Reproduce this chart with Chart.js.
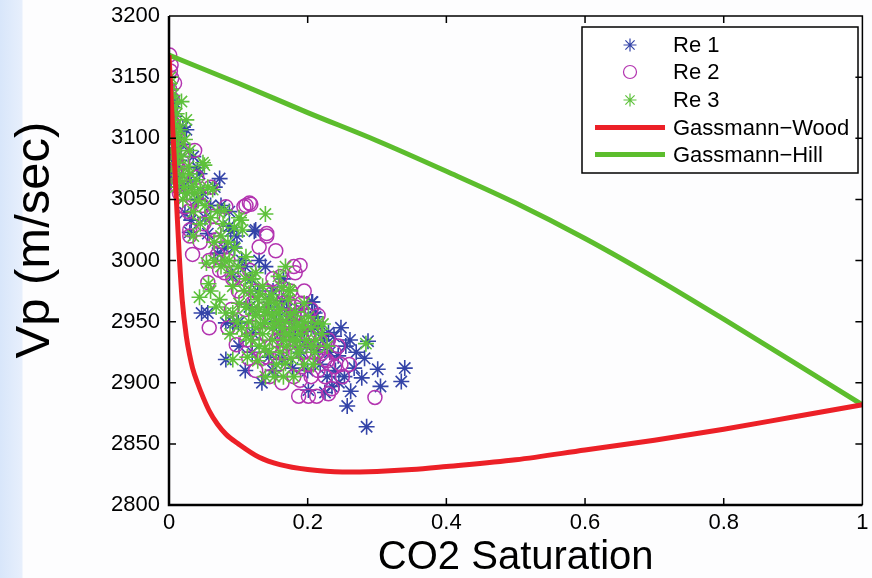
<!DOCTYPE html>
<html>
<head>
<meta charset="utf-8">
<script src="https://cdn.jsdelivr.net/npm/chart.js@4"></script>
<style>
html,body{margin:0;padding:0}
body{width:872px;height:578px;background:linear-gradient(to right,#d8e6fa 0,#e7effc 22px,#fdfdfe 23px)}
#wrap{position:relative;width:872px;height:578px}
</style>
</head>
<body>
<div id="wrap"><canvas id="chart" width="872" height="578"></canvas></div>
<script>
// tick values
const satTicks=[0,0.2,0.4,0.6,0.8,1];
const vpTicks=[2800,2850,2900,2950,3000,3050,3100,3150,3200];

// model curves
const woodSat=[0,0.005,0.01,0.015,0.019,0.025,0.03,0.034,0.041,0.05,0.058,0.07,0.082,0.1,0.13,0.16,0.2,0.25,0.3,0.35,0.4,0.5,0.6,0.7,0.8,0.9,1];
const woodVp=[3168,3112,3057,3002,2968,2938,2922,2912,2900,2887,2877,2866,2858,2850,2839,2833,2829,2827,2827.5,2829,2831.5,2837,2845,2853,2862,2872,2882];
const hillSat=[0,0.1,0.2,0.3,0.4,0.5,0.6,0.7,0.8,0.9,1];
const hillVp=[3168,3145,3121,3098,3073,3047,3018,2986,2952,2917,2882];

// measured points [saturation, vp]
const re1=[[0.002,3140],[0.005,3128],[0.003,3112],[0.008,3118],[0.006,3098],[0.004,3086],[0.010,3092],[0.004,3077],[0.012,3068],[0.015,3082],
[0.020,3109],[0.025,3107],[0.041,3076],[0.044,3071],[0.073,3067],[0.066,3060],[0.049,3055],[0.023,3039],[0.032,3033],[0.030,3023],
[0.087,3040],[0.089,3024],[0.123,3024],[0.056,3022],[0.087,3028],[0.125,3025],[0.070,3006],[0.094,3011],[0.130,3000],[0.139,2995],
[0.092,2987],[0.047,2957],[0.056,2957],[0.082,2949],[0.100,2949],[0.116,2962],[0.144,2962],[0.163,2967],[0.206,2966],[0.210,2957],
[0.215,2946],[0.082,2919],[0.110,2910],[0.134,2900],[0.207,2966],[0.211,2954],[0.195,2942],[0.230,2941],[0.248,2945],[0.261,2935],
[0.287,2934],[0.282,2920],[0.267,2912],[0.278,2904],[0.262,2893],[0.257,2881],[0.285,2864],[0.301,2911],[0.305,2897],[0.335,2901],
[0.340,2912],[0.253,2905],[0.235,2897],[0.244,2922],[0.232,2925],[0.215,2927],[0.201,2894],[0.225,2892],[0.092,2949],[0.144,2921],
[0.163,2919],[0.120,2941],[0.101,2930],[0.182,2938],[0.208,2946],[0.173,2951],[0.150,2975],[0.170,2960],[0.110,2995],[0.160,2940],
[0.190,2925],[0.060,3045],[0.040,3050],[0.015,3060],[0.190,2960],[0.178,2912],[0.240,2910],[0.222,2935],
[0.001,3105],[0.007,3130],[0.003,3065],[0.018,3095],[0.028,3065],[0.035,3085],[0.052,3035],[0.075,3045],[0.080,3010],[0.098,3020],
[0.105,3000],[0.118,2985],[0.128,2975],[0.155,2950],[0.165,2985],[0.185,2950],[0.198,2930],[0.218,2915],[0.228,2905],[0.245,2900],
[0.270,2925],[0.255,2930],[0.238,2938],[0.200,2910],[0.150,2910],[0.120,2925]];

const re2=[[0.001,3168],[0.002,3155],[0.004,3149],[0.001,3140],[0.005,3132],[0.002,3122],[0.006,3112],[0.003,3101],[0.007,3091],[0.004,3080],
[0.009,3071],[0.011,3061],[0.013,3076],[0.016,3092],[0.008,3145],[0.037,3090],[0.111,3045],[0.118,3046],[0.023,3044],[0.030,3025],
[0.141,3022],[0.116,3047],[0.108,3044],[0.141,3020],[0.154,3008],[0.189,2996],[0.180,2995],[0.130,3011],[0.056,2982],[0.034,3005],
[0.030,3020],[0.082,3044],[0.063,3036],[0.068,3017],[0.058,3000],[0.101,2988],[0.116,2992],[0.149,2973],[0.173,2965],[0.182,2962],
[0.073,2992],[0.058,2945],[0.297,2888],[0.213,2889],[0.187,2889],[0.230,2891],[0.163,2900],[0.191,2965],[0.182,2990],[0.161,2987],
[0.225,2919],[0.244,2930],[0.215,2910],[0.201,2915],[0.230,2935],[0.097,2931],[0.125,2910],[0.141,2921],[0.163,2924],[0.182,2938],
[0.168,2946],[0.187,2957],[0.196,2949],[0.201,2938],[0.220,2924],[0.189,2902],[0.239,2913],[0.201,2889],[0.120,2965],[0.130,2950],
[0.140,2975],[0.150,2960],[0.160,2955],[0.170,2940],[0.140,2940],[0.155,2935],[0.200,2955],[0.210,2940],[0.100,2975],[0.090,2960],
[0.080,2990],[0.070,3005],[0.050,3030],[0.060,3060],[0.040,3068],[0.025,3060],[0.020,3080],[0.045,3015],
[0.003,3160],[0.001,3130],[0.003,3115],[0.005,3095],[0.002,3085],[0.006,3070],[0.010,3080],[0.012,3100],[0.015,3055],[0.018,3070],
[0.028,3040],[0.035,3050],[0.048,3045],[0.065,3025],[0.075,3010],[0.085,3000],[0.092,2985],[0.105,2970],[0.110,2960],[0.125,2975],
[0.135,2960],[0.145,2950],[0.158,2945],[0.165,2930],[0.175,2925],[0.185,2915],[0.195,2925],[0.205,2905],[0.215,2925],[0.225,2905],
[0.235,2895],[0.250,2905],[0.260,2915],[0.175,2975],[0.165,2965],[0.195,2975],[0.150,2985],[0.128,2930],[0.115,2920],[0.085,2945],
[0.170,2955],[0.178,2948],[0.188,2945],[0.192,2935],[0.172,2932],[0.160,2942],[0.148,2930],[0.135,2920],[0.122,2945],[0.112,2935],
[0.208,2925],[0.218,2935],[0.228,2918],[0.238,2925],[0.248,2915],[0.205,2960],[0.215,2955],[0.158,2915],[0.145,2905],[0.180,2905]];

const re3=[[0.002,3150],[0.003,3140],[0.005,3135],[0.004,3125],[0.006,3115],[0.008,3105],[0.010,3095],[0.007,3085],[0.012,3080],[0.009,3070],
[0.015,3065],[0.011,3120],[0.018,3130],[0.051,3078],[0.139,3038],[0.016,3107],[0.023,3099],[0.030,3090],[0.028,3077],[0.040,3066],
[0.056,3060],[0.042,3049],[0.080,3041],[0.104,3033],[0.094,3027],[0.168,2995],[0.173,2976],[0.057,2981],[0.049,3080],[0.030,3071],
[0.063,3058],[0.101,3035],[0.106,3025],[0.078,3030],[0.054,2998],[0.087,3000],[0.111,3003],[0.125,2990],[0.092,2979],[0.073,2968],
[0.135,2979],[0.144,2968],[0.158,2957],[0.130,2960],[0.111,2962],[0.092,2957],[0.068,2962],[0.044,2970],[0.130,2973],[0.144,2966],
[0.168,2950],[0.158,2951],[0.175,2975],[0.120,2960],[0.101,2965],[0.092,2919],[0.082,2957],[0.113,2921],[0.139,2905],[0.168,2916],
[0.180,2905],[0.187,2924],[0.170,2930],[0.149,2935],[0.130,2930],[0.111,2938],[0.139,2949],[0.192,2946],[0.173,2940],[0.284,2932],
[0.215,2949],[0.201,2954],[0.158,2987],[0.020,3050],[0.035,3040],[0.065,3015],[0.120,2985],[0.150,2945],[0.185,2935],[0.195,2915],
[0.160,2925],[0.205,2930],[0.125,2945],[0.075,2995],[0.025,3115],
[0.001,3145],[0.003,3130],[0.006,3125],[0.002,3110],[0.005,3100],[0.009,3110],[0.004,3090],[0.007,3075],[0.013,3090],[0.010,3060],
[0.014,3100],[0.017,3085],[0.020,3070],[0.022,3060],[0.026,3055],[0.032,3060],[0.037,3055],[0.045,3058],[0.052,3045],[0.060,3035],
[0.070,3040],[0.075,3020],[0.085,3015],[0.095,3010],[0.100,2995],[0.110,2985],[0.118,2975],[0.128,2968],[0.138,2958],[0.148,2955],
[0.155,2965],[0.162,2945],[0.175,2955],[0.180,2945],[0.190,2940],[0.198,2935],[0.210,2925],[0.220,2940],[0.145,2925],[0.135,2940],
[0.165,2935],[0.115,2950],[0.105,2945],[0.090,2990],[0.080,3000],[0.065,3000],[0.060,2975],[0.035,3020],[0.045,3030],
[0.125,2955],[0.132,2948],[0.142,2958],[0.152,2948],[0.160,2960],[0.168,2940],[0.178,2935],[0.185,2948],[0.195,2950],[0.205,2945],
[0.212,2935],[0.188,2928],[0.176,2920],[0.155,2915],[0.148,2972],[0.162,2978],[0.172,2968],[0.182,2958],[0.108,2975],[0.098,2950],
[0.088,2940],[0.118,2935],[0.128,2918],[0.138,2928],[0.152,2905],[0.165,2905],[0.208,2915],[0.222,2948],[0.228,2930],[0.195,2965]];

const FONT="'Liberation Sans', Arial, Helvetica, sans-serif";
const BLUE="#3444a8",MAG="#b334b0",GRN="#5ec13c",RED="#ec2027",HILL="#5cbd2d";

const toPts=list=>list.map(p=>({x:p[0],y:p[1]}));
const toLine=(xs,ys)=>xs.map((x,i)=>({x:x,y:ys[i]}));

// legend drawn as a matlab-style boxed legend
const legendBox={
id:"legendBox",
afterDatasetsDraw(chart){
const ctx=chart.ctx;
const x0=582,y0=27,w=276,h=146;
ctx.save();
ctx.fillStyle="#fff";
ctx.fillRect(x0,y0,w,h);
ctx.strokeStyle="#000";
ctx.lineWidth=1.5;
ctx.strokeRect(x0,y0,w,h);
const rows=[45,72,100,127.5,154.5];
ctx.font="22px "+FONT;
ctx.textBaseline="middle";
chart.data.datasets.forEach((ds,i)=>{
const yy=rows[i];
if(ds.showLine){
ctx.strokeStyle=ds.borderColor;
ctx.lineWidth=5;
ctx.beginPath();ctx.moveTo(595,yy);ctx.lineTo(665,yy);ctx.stroke();
}else{
ctx.strokeStyle=ds.borderColor;
ctx.fillStyle="rgba(0,0,0,0)";
ctx.lineWidth=1.2;
Chart.helpers.drawPoint(ctx,{pointStyle:ds.pointStyle,radius:6.5,rotation:0,borderWidth:1.2},630,yy);
}
ctx.fillStyle="#000";
ctx.fillText(ds.label,673,yy+1);
});
ctx.restore();
}
};

// box round the plot with inward ticks on all sides
const frame={
id:"frame",
afterDraw(chart){
const {ctx,chartArea:a,scales:{x,y}}=chart;
ctx.save();
ctx.strokeStyle="#000";
ctx.lineWidth=1.5;
ctx.beginPath();
y.ticks.forEach(t=>{
const py=y.getPixelForValue(t.value);
ctx.moveTo(a.left,py);ctx.lineTo(a.left+7,py);
ctx.moveTo(a.right,py);ctx.lineTo(a.right-7,py);
});
x.ticks.forEach(t=>{
const px=x.getPixelForValue(t.value);
ctx.moveTo(px,a.bottom);ctx.lineTo(px,a.bottom-7);
ctx.moveTo(px,a.top);ctx.lineTo(px,a.top+7);
});
ctx.moveTo(a.left,a.top);ctx.lineTo(a.right,a.top);ctx.lineTo(a.right,a.bottom);
ctx.stroke();
ctx.lineWidth=2.5;
ctx.beginPath();
ctx.moveTo(a.left,a.top);ctx.lineTo(a.left,a.bottom);ctx.lineTo(a.right,a.bottom);
ctx.stroke();
ctx.restore();
}
};

const chart=new Chart(document.getElementById("chart").getContext("2d"),{
type:"scatter",
data:{datasets:[
{label:"Re 1",data:toPts(re1),pointStyle:"star",pointRadius:8,borderColor:BLUE,backgroundColor:"rgba(0,0,0,0)",pointBorderWidth:1.6,showLine:false,order:5},
{label:"Re 2",data:toPts(re2),pointStyle:"circle",pointRadius:7,borderColor:MAG,backgroundColor:"rgba(0,0,0,0)",pointBorderWidth:1.5,showLine:false,order:4},
{label:"Re 3",data:toPts(re3),pointStyle:"star",pointRadius:8,borderColor:GRN,backgroundColor:"rgba(0,0,0,0)",pointBorderWidth:1.6,showLine:false,order:3},
{label:"Gassmann\u2212Wood",data:toLine(woodSat,woodVp),showLine:true,pointRadius:0,borderColor:RED,borderWidth:5,tension:0,cubicInterpolationMode:"monotone",order:1},
{label:"Gassmann\u2212Hill",data:toLine(hillSat,hillVp),showLine:true,pointRadius:0,borderColor:HILL,borderWidth:5,tension:0,cubicInterpolationMode:"monotone",order:2}
]},
options:{
responsive:false,
animation:false,
devicePixelRatio:1,
layout:{padding:{top:16,right:2,left:0,bottom:0}},
plugins:{legend:{display:false},tooltip:{enabled:false}},
scales:{
x:{
type:"linear",min:satTicks[0],max:satTicks[satTicks.length-1],
afterBuildTicks:s=>{s.ticks=satTicks.map(v=>({value:v}));},
ticks:{color:"#000",font:{family:FONT,size:22},padding:5,maxRotation:0,callback:v=>String(v)},
grid:{display:false,drawTicks:false},
border:{display:false},
title:{display:true,text:"CO2 Saturation",color:"#000",font:{family:FONT,size:40,lineHeight:1},padding:{top:0,bottom:0}},
afterFit:s=>{s.height=73;s.paddingLeft=0;s.paddingRight=0;}
},
y:{
type:"linear",min:vpTicks[0],max:vpTicks[vpTicks.length-1],
afterBuildTicks:s=>{s.ticks=vpTicks.map(v=>({value:v}));},
ticks:{color:"#000",font:{family:FONT,size:22},padding:9,callback:v=>String(v)},
grid:{display:false,drawTicks:false},
border:{display:false},
title:{display:true,text:"\u00a0\u00a0\u00a0Vp (m/sec)",color:"#000",font:{family:FONT,size:49,lineHeight:1},padding:{top:11,bottom:0}},
afterFit:s=>{s.width=169;s.paddingTop=0;s.paddingBottom=0;}
}
}
},
plugins:[legendBox,frame]
});
</script>
</body>
</html>
